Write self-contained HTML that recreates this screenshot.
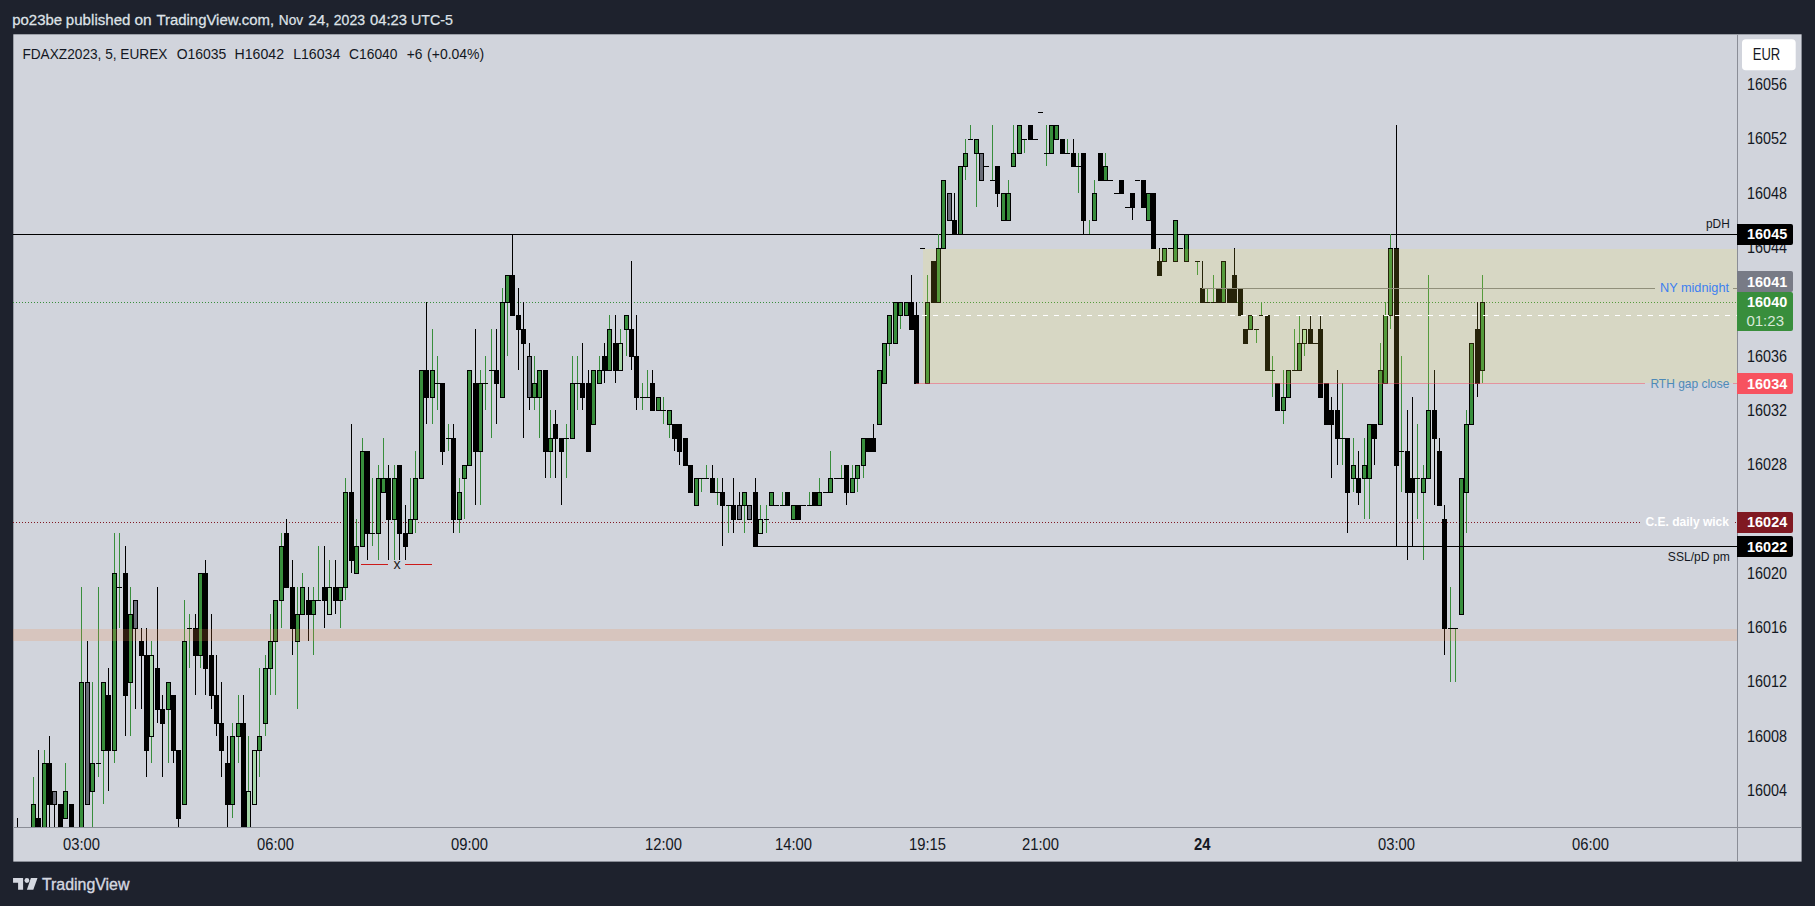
<!DOCTYPE html>
<html lang="en"><head><meta charset="utf-8"><title>FDAXZ2023 chart</title>
<style>html,body{margin:0;padding:0;background:#1e222d;}body{width:1815px;height:906px;overflow:hidden;font-family:"Liberation Sans",Arial,sans-serif;}svg{display:block;}text{font-family:"Liberation Sans",Arial,sans-serif;}</style></head><body>
<svg width="1815" height="906" viewBox="0 0 1815 906">
<rect x="0" y="0" width="1815" height="906" fill="#1e222d"/>
<rect x="13.3" y="34.3" width="1788.3" height="827.3" fill="#d1d4dc"/>
<defs><clipPath id="pane"><rect x="13" y="35" width="1724" height="792"/></clipPath></defs>
<g clip-path="url(#pane)" shape-rendering="crispEdges">
<rect x="13" y="234" width="1724" height="1" fill="#000"/>
<line x1="13" y1="302.5" x2="1737" y2="302.5" stroke="#388e3c" stroke-width="1" stroke-dasharray="1 2"/>
<line x1="13" y1="522.5" x2="1640" y2="522.5" stroke="#801922" stroke-width="1" stroke-dasharray="1 2"/>
<rect x="1735" y="522" width="1" height="1" fill="#801922"/>
<rect x="17" y="818" width="1" height="54" fill="#000000"/>
<rect x="15" y="845" width="5" height="14" fill="#000"/>
<rect x="33" y="777" width="1" height="81" fill="#388e3c"/>
<rect x="31" y="804" width="5" height="55" fill="#000"/>
<rect x="32" y="805" width="3" height="53" fill="#388e3c"/>
<rect x="38" y="750" width="1" height="108" fill="#000000"/>
<rect x="36" y="818" width="5" height="41" fill="#000"/>
<rect x="44" y="750" width="1" height="108" fill="#388e3c"/>
<rect x="42" y="763" width="5" height="96" fill="#000"/>
<rect x="43" y="764" width="3" height="94" fill="#388e3c"/>
<rect x="49" y="736" width="1" height="109" fill="#000000"/>
<rect x="47" y="763" width="5" height="42" fill="#000"/>
<rect x="54" y="791" width="1" height="54" fill="#000000"/>
<rect x="52" y="791" width="5" height="14" fill="#000"/>
<rect x="53" y="792" width="3" height="12" fill="#6a6d78"/>
<rect x="60" y="804" width="1" height="54" fill="#000000"/>
<rect x="58" y="804" width="5" height="55" fill="#000"/>
<rect x="65" y="763" width="1" height="55" fill="#388e3c"/>
<rect x="63" y="791" width="5" height="28" fill="#000"/>
<rect x="64" y="792" width="3" height="26" fill="#388e3c"/>
<rect x="71" y="804" width="1" height="54" fill="#000000"/>
<rect x="69" y="804" width="5" height="55" fill="#000"/>
<rect x="81" y="587" width="1" height="271" fill="#388e3c"/>
<rect x="79" y="682" width="5" height="177" fill="#000"/>
<rect x="80" y="683" width="3" height="175" fill="#388e3c"/>
<rect x="87" y="641" width="1" height="163" fill="#000000"/>
<rect x="85" y="682" width="5" height="123" fill="#000"/>
<rect x="86" y="683" width="3" height="121" fill="#6a6d78"/>
<rect x="92" y="682" width="1" height="163" fill="#388e3c"/>
<rect x="90" y="763" width="5" height="29" fill="#000"/>
<rect x="91" y="764" width="3" height="27" fill="#388e3c"/>
<rect x="98" y="587" width="1" height="190" fill="#388e3c"/>
<rect x="96" y="763" width="5" height="1" fill="#000"/>
<rect x="103" y="682" width="1" height="122" fill="#388e3c"/>
<rect x="101" y="682" width="5" height="69" fill="#000"/>
<rect x="102" y="683" width="3" height="67" fill="#388e3c"/>
<rect x="108" y="668" width="1" height="123" fill="#000000"/>
<rect x="106" y="695" width="5" height="56" fill="#000"/>
<rect x="114" y="533" width="1" height="230" fill="#388e3c"/>
<rect x="112" y="573" width="5" height="178" fill="#000"/>
<rect x="113" y="574" width="3" height="176" fill="#388e3c"/>
<rect x="119" y="533" width="1" height="95" fill="#388e3c"/>
<rect x="117" y="587" width="5" height="1" fill="#000"/>
<rect x="125" y="546" width="1" height="190" fill="#000000"/>
<rect x="123" y="573" width="5" height="123" fill="#000"/>
<rect x="130" y="587" width="1" height="149" fill="#388e3c"/>
<rect x="128" y="614" width="5" height="69" fill="#000"/>
<rect x="129" y="615" width="3" height="67" fill="#388e3c"/>
<rect x="135" y="600" width="1" height="109" fill="#000000"/>
<rect x="133" y="600" width="5" height="29" fill="#000"/>
<rect x="134" y="601" width="3" height="27" fill="#6a6d78"/>
<rect x="141" y="628" width="1" height="81" fill="#000000"/>
<rect x="139" y="641" width="5" height="15" fill="#000"/>
<rect x="146" y="628" width="1" height="149" fill="#000000"/>
<rect x="144" y="655" width="5" height="96" fill="#000"/>
<rect x="151" y="641" width="1" height="122" fill="#388e3c"/>
<rect x="149" y="655" width="5" height="82" fill="#000"/>
<rect x="150" y="656" width="3" height="80" fill="#a5d6a7"/>
<rect x="157" y="587" width="1" height="136" fill="#000000"/>
<rect x="155" y="668" width="5" height="42" fill="#000"/>
<rect x="162" y="695" width="1" height="82" fill="#000000"/>
<rect x="160" y="709" width="5" height="15" fill="#000"/>
<rect x="168" y="682" width="1" height="81" fill="#388e3c"/>
<rect x="166" y="682" width="5" height="28" fill="#000"/>
<rect x="167" y="683" width="3" height="26" fill="#388e3c"/>
<rect x="173" y="695" width="1" height="68" fill="#000000"/>
<rect x="171" y="695" width="5" height="56" fill="#000"/>
<rect x="178" y="750" width="1" height="81" fill="#000000"/>
<rect x="176" y="750" width="5" height="69" fill="#000"/>
<rect x="184" y="600" width="1" height="204" fill="#388e3c"/>
<rect x="182" y="641" width="5" height="164" fill="#000"/>
<rect x="183" y="642" width="3" height="162" fill="#388e3c"/>
<rect x="189" y="614" width="1" height="54" fill="#388e3c"/>
<rect x="187" y="628" width="5" height="1" fill="#000"/>
<rect x="195" y="614" width="1" height="81" fill="#000000"/>
<rect x="193" y="628" width="5" height="28" fill="#000"/>
<rect x="200" y="573" width="1" height="95" fill="#388e3c"/>
<rect x="198" y="573" width="5" height="83" fill="#000"/>
<rect x="199" y="574" width="3" height="81" fill="#388e3c"/>
<rect x="205" y="560" width="1" height="135" fill="#000000"/>
<rect x="203" y="573" width="5" height="96" fill="#000"/>
<rect x="211" y="614" width="1" height="95" fill="#000000"/>
<rect x="209" y="655" width="5" height="41" fill="#000"/>
<rect x="216" y="655" width="1" height="81" fill="#000000"/>
<rect x="214" y="695" width="5" height="29" fill="#000"/>
<rect x="221" y="682" width="1" height="95" fill="#000000"/>
<rect x="219" y="723" width="5" height="28" fill="#000"/>
<rect x="227" y="736" width="1" height="109" fill="#000000"/>
<rect x="225" y="763" width="5" height="42" fill="#000"/>
<rect x="232" y="723" width="1" height="95" fill="#388e3c"/>
<rect x="230" y="736" width="5" height="69" fill="#000"/>
<rect x="231" y="737" width="3" height="67" fill="#388e3c"/>
<rect x="238" y="695" width="1" height="68" fill="#388e3c"/>
<rect x="236" y="723" width="5" height="14" fill="#000"/>
<rect x="237" y="724" width="3" height="12" fill="#388e3c"/>
<rect x="243" y="695" width="1" height="163" fill="#000000"/>
<rect x="241" y="723" width="5" height="123" fill="#000"/>
<rect x="248" y="736" width="1" height="109" fill="#388e3c"/>
<rect x="246" y="791" width="5" height="55" fill="#000"/>
<rect x="247" y="792" width="3" height="53" fill="#a5d6a7"/>
<rect x="254" y="750" width="1" height="54" fill="#388e3c"/>
<rect x="252" y="750" width="5" height="55" fill="#000"/>
<rect x="253" y="751" width="3" height="53" fill="#a5d6a7"/>
<rect x="259" y="668" width="1" height="109" fill="#388e3c"/>
<rect x="257" y="736" width="5" height="15" fill="#000"/>
<rect x="258" y="737" width="3" height="13" fill="#388e3c"/>
<rect x="265" y="655" width="1" height="81" fill="#388e3c"/>
<rect x="263" y="668" width="5" height="56" fill="#000"/>
<rect x="264" y="669" width="3" height="54" fill="#388e3c"/>
<rect x="270" y="614" width="1" height="81" fill="#388e3c"/>
<rect x="268" y="641" width="5" height="28" fill="#000"/>
<rect x="269" y="642" width="3" height="26" fill="#388e3c"/>
<rect x="275" y="600" width="1" height="95" fill="#388e3c"/>
<rect x="273" y="600" width="5" height="42" fill="#000"/>
<rect x="274" y="601" width="3" height="40" fill="#388e3c"/>
<rect x="281" y="533" width="1" height="95" fill="#388e3c"/>
<rect x="279" y="546" width="5" height="55" fill="#000"/>
<rect x="280" y="547" width="3" height="53" fill="#388e3c"/>
<rect x="286" y="519" width="1" height="68" fill="#000000"/>
<rect x="284" y="533" width="5" height="55" fill="#000"/>
<rect x="292" y="560" width="1" height="95" fill="#000000"/>
<rect x="290" y="587" width="5" height="42" fill="#000"/>
<rect x="297" y="587" width="1" height="122" fill="#388e3c"/>
<rect x="295" y="614" width="5" height="28" fill="#000"/>
<rect x="296" y="615" width="3" height="26" fill="#388e3c"/>
<rect x="302" y="573" width="1" height="41" fill="#388e3c"/>
<rect x="300" y="587" width="5" height="28" fill="#000"/>
<rect x="301" y="588" width="3" height="26" fill="#388e3c"/>
<rect x="308" y="587" width="1" height="54" fill="#000000"/>
<rect x="306" y="600" width="5" height="15" fill="#000"/>
<rect x="313" y="587" width="1" height="68" fill="#388e3c"/>
<rect x="311" y="600" width="5" height="15" fill="#000"/>
<rect x="312" y="601" width="3" height="13" fill="#388e3c"/>
<rect x="318" y="546" width="1" height="54" fill="#388e3c"/>
<rect x="316" y="600" width="5" height="1" fill="#000"/>
<rect x="324" y="546" width="1" height="82" fill="#000000"/>
<rect x="322" y="587" width="5" height="14" fill="#000"/>
<rect x="329" y="560" width="1" height="54" fill="#388e3c"/>
<rect x="327" y="587" width="5" height="28" fill="#000"/>
<rect x="328" y="588" width="3" height="26" fill="#a5d6a7"/>
<rect x="335" y="560" width="1" height="54" fill="#000000"/>
<rect x="333" y="587" width="5" height="14" fill="#000"/>
<rect x="340" y="587" width="1" height="41" fill="#388e3c"/>
<rect x="338" y="587" width="5" height="14" fill="#000"/>
<rect x="339" y="588" width="3" height="12" fill="#388e3c"/>
<rect x="345" y="478" width="1" height="122" fill="#388e3c"/>
<rect x="343" y="492" width="5" height="96" fill="#000"/>
<rect x="344" y="493" width="3" height="94" fill="#388e3c"/>
<rect x="351" y="424" width="1" height="149" fill="#000000"/>
<rect x="349" y="492" width="5" height="69" fill="#000"/>
<rect x="356" y="519" width="1" height="54" fill="#388e3c"/>
<rect x="354" y="546" width="5" height="28" fill="#000"/>
<rect x="355" y="547" width="3" height="26" fill="#388e3c"/>
<rect x="362" y="438" width="1" height="108" fill="#388e3c"/>
<rect x="360" y="451" width="5" height="96" fill="#000"/>
<rect x="361" y="452" width="3" height="94" fill="#388e3c"/>
<rect x="367" y="451" width="1" height="109" fill="#000000"/>
<rect x="365" y="451" width="5" height="83" fill="#000"/>
<rect x="372" y="478" width="1" height="68" fill="#388e3c"/>
<rect x="370" y="533" width="5" height="1" fill="#000"/>
<rect x="378" y="465" width="1" height="95" fill="#388e3c"/>
<rect x="376" y="478" width="5" height="56" fill="#000"/>
<rect x="377" y="479" width="3" height="54" fill="#388e3c"/>
<rect x="383" y="438" width="1" height="54" fill="#388e3c"/>
<rect x="381" y="478" width="5" height="15" fill="#000"/>
<rect x="382" y="479" width="3" height="13" fill="#388e3c"/>
<rect x="388" y="465" width="1" height="95" fill="#000000"/>
<rect x="386" y="478" width="5" height="42" fill="#000"/>
<rect x="394" y="465" width="1" height="95" fill="#388e3c"/>
<rect x="392" y="478" width="5" height="42" fill="#000"/>
<rect x="393" y="479" width="3" height="40" fill="#388e3c"/>
<rect x="399" y="465" width="1" height="95" fill="#000000"/>
<rect x="397" y="465" width="5" height="69" fill="#000"/>
<rect x="405" y="505" width="1" height="55" fill="#000000"/>
<rect x="403" y="533" width="5" height="14" fill="#000"/>
<rect x="410" y="478" width="1" height="55" fill="#388e3c"/>
<rect x="408" y="519" width="5" height="15" fill="#000"/>
<rect x="409" y="520" width="3" height="13" fill="#388e3c"/>
<rect x="415" y="451" width="1" height="82" fill="#388e3c"/>
<rect x="413" y="478" width="5" height="42" fill="#000"/>
<rect x="414" y="479" width="3" height="40" fill="#388e3c"/>
<rect x="421" y="370" width="1" height="108" fill="#388e3c"/>
<rect x="419" y="370" width="5" height="109" fill="#000"/>
<rect x="420" y="371" width="3" height="107" fill="#388e3c"/>
<rect x="426" y="302" width="1" height="122" fill="#000000"/>
<rect x="424" y="370" width="5" height="28" fill="#000"/>
<rect x="432" y="329" width="1" height="95" fill="#388e3c"/>
<rect x="430" y="370" width="5" height="28" fill="#000"/>
<rect x="431" y="371" width="3" height="26" fill="#388e3c"/>
<rect x="437" y="356" width="1" height="54" fill="#388e3c"/>
<rect x="435" y="383" width="5" height="1" fill="#000"/>
<rect x="442" y="383" width="1" height="82" fill="#000000"/>
<rect x="440" y="383" width="5" height="69" fill="#000"/>
<rect x="448" y="424" width="1" height="27" fill="#388e3c"/>
<rect x="446" y="438" width="5" height="1" fill="#000"/>
<rect x="453" y="424" width="1" height="109" fill="#000000"/>
<rect x="451" y="438" width="5" height="82" fill="#000"/>
<rect x="459" y="478" width="1" height="55" fill="#388e3c"/>
<rect x="457" y="492" width="5" height="28" fill="#000"/>
<rect x="458" y="493" width="3" height="26" fill="#388e3c"/>
<rect x="464" y="465" width="1" height="54" fill="#388e3c"/>
<rect x="462" y="465" width="5" height="14" fill="#000"/>
<rect x="463" y="466" width="3" height="12" fill="#388e3c"/>
<rect x="469" y="370" width="1" height="95" fill="#388e3c"/>
<rect x="467" y="370" width="5" height="96" fill="#000"/>
<rect x="468" y="371" width="3" height="94" fill="#388e3c"/>
<rect x="475" y="329" width="1" height="176" fill="#000000"/>
<rect x="473" y="383" width="5" height="69" fill="#000"/>
<rect x="480" y="370" width="1" height="135" fill="#388e3c"/>
<rect x="478" y="383" width="5" height="69" fill="#000"/>
<rect x="479" y="384" width="3" height="67" fill="#388e3c"/>
<rect x="485" y="356" width="1" height="54" fill="#388e3c"/>
<rect x="483" y="383" width="5" height="1" fill="#000"/>
<rect x="491" y="329" width="1" height="109" fill="#388e3c"/>
<rect x="489" y="370" width="5" height="1" fill="#000"/>
<rect x="496" y="329" width="1" height="95" fill="#000000"/>
<rect x="494" y="370" width="5" height="14" fill="#000"/>
<rect x="502" y="288" width="1" height="109" fill="#388e3c"/>
<rect x="500" y="302" width="5" height="96" fill="#000"/>
<rect x="501" y="303" width="3" height="94" fill="#388e3c"/>
<rect x="507" y="275" width="1" height="81" fill="#388e3c"/>
<rect x="505" y="275" width="5" height="28" fill="#000"/>
<rect x="506" y="276" width="3" height="26" fill="#388e3c"/>
<rect x="512" y="234" width="1" height="81" fill="#000000"/>
<rect x="510" y="275" width="5" height="41" fill="#000"/>
<rect x="518" y="288" width="1" height="82" fill="#000000"/>
<rect x="516" y="315" width="5" height="15" fill="#000"/>
<rect x="523" y="302" width="1" height="136" fill="#000000"/>
<rect x="521" y="329" width="5" height="15" fill="#000"/>
<rect x="529" y="343" width="1" height="67" fill="#000000"/>
<rect x="527" y="356" width="5" height="42" fill="#000"/>
<rect x="528" y="357" width="3" height="40" fill="#6a6d78"/>
<rect x="534" y="356" width="1" height="54" fill="#388e3c"/>
<rect x="532" y="383" width="5" height="15" fill="#000"/>
<rect x="533" y="384" width="3" height="13" fill="#388e3c"/>
<rect x="539" y="370" width="1" height="68" fill="#388e3c"/>
<rect x="537" y="370" width="5" height="28" fill="#000"/>
<rect x="538" y="371" width="3" height="26" fill="#388e3c"/>
<rect x="545" y="370" width="1" height="108" fill="#000000"/>
<rect x="543" y="370" width="5" height="82" fill="#000"/>
<rect x="550" y="410" width="1" height="68" fill="#388e3c"/>
<rect x="548" y="438" width="5" height="14" fill="#000"/>
<rect x="549" y="439" width="3" height="12" fill="#388e3c"/>
<rect x="555" y="410" width="1" height="68" fill="#000000"/>
<rect x="553" y="424" width="5" height="15" fill="#000"/>
<rect x="561" y="438" width="1" height="67" fill="#000000"/>
<rect x="559" y="438" width="5" height="14" fill="#000"/>
<rect x="566" y="424" width="1" height="54" fill="#388e3c"/>
<rect x="564" y="438" width="5" height="1" fill="#000"/>
<rect x="572" y="356" width="1" height="82" fill="#388e3c"/>
<rect x="570" y="383" width="5" height="56" fill="#000"/>
<rect x="571" y="384" width="3" height="54" fill="#388e3c"/>
<rect x="577" y="356" width="1" height="54" fill="#388e3c"/>
<rect x="575" y="383" width="5" height="1" fill="#000"/>
<rect x="582" y="343" width="1" height="67" fill="#000000"/>
<rect x="580" y="383" width="5" height="15" fill="#000"/>
<rect x="588" y="370" width="1" height="81" fill="#000000"/>
<rect x="586" y="383" width="5" height="69" fill="#000"/>
<rect x="593" y="370" width="1" height="54" fill="#388e3c"/>
<rect x="591" y="370" width="5" height="55" fill="#000"/>
<rect x="592" y="371" width="3" height="53" fill="#388e3c"/>
<rect x="599" y="356" width="1" height="27" fill="#388e3c"/>
<rect x="597" y="370" width="5" height="14" fill="#000"/>
<rect x="598" y="371" width="3" height="12" fill="#388e3c"/>
<rect x="604" y="343" width="1" height="40" fill="#000000"/>
<rect x="602" y="356" width="5" height="15" fill="#000"/>
<rect x="609" y="315" width="1" height="55" fill="#388e3c"/>
<rect x="607" y="329" width="5" height="42" fill="#000"/>
<rect x="608" y="330" width="3" height="40" fill="#388e3c"/>
<rect x="615" y="315" width="1" height="68" fill="#000000"/>
<rect x="613" y="343" width="5" height="28" fill="#000"/>
<rect x="620" y="329" width="1" height="41" fill="#388e3c"/>
<rect x="618" y="343" width="5" height="28" fill="#000"/>
<rect x="619" y="344" width="3" height="26" fill="#a5d6a7"/>
<rect x="626" y="315" width="1" height="41" fill="#388e3c"/>
<rect x="624" y="315" width="5" height="15" fill="#000"/>
<rect x="625" y="316" width="3" height="13" fill="#388e3c"/>
<rect x="631" y="261" width="1" height="109" fill="#000000"/>
<rect x="629" y="329" width="5" height="28" fill="#000"/>
<rect x="636" y="315" width="1" height="95" fill="#000000"/>
<rect x="634" y="356" width="5" height="42" fill="#000"/>
<rect x="642" y="383" width="1" height="27" fill="#388e3c"/>
<rect x="640" y="397" width="5" height="1" fill="#000"/>
<rect x="647" y="370" width="1" height="27" fill="#388e3c"/>
<rect x="645" y="397" width="5" height="1" fill="#000"/>
<rect x="652" y="370" width="1" height="40" fill="#000000"/>
<rect x="650" y="383" width="5" height="28" fill="#000"/>
<rect x="658" y="397" width="1" height="13" fill="#388e3c"/>
<rect x="656" y="397" width="5" height="14" fill="#000"/>
<rect x="657" y="398" width="3" height="12" fill="#388e3c"/>
<rect x="663" y="397" width="1" height="27" fill="#388e3c"/>
<rect x="661" y="410" width="5" height="1" fill="#000"/>
<rect x="669" y="410" width="1" height="28" fill="#388e3c"/>
<rect x="667" y="410" width="5" height="15" fill="#000"/>
<rect x="668" y="411" width="3" height="13" fill="#388e3c"/>
<rect x="674" y="424" width="1" height="27" fill="#000000"/>
<rect x="672" y="424" width="5" height="15" fill="#000"/>
<rect x="679" y="424" width="1" height="41" fill="#000000"/>
<rect x="677" y="424" width="5" height="28" fill="#000"/>
<rect x="685" y="438" width="1" height="27" fill="#000000"/>
<rect x="683" y="438" width="5" height="28" fill="#000"/>
<rect x="690" y="465" width="1" height="27" fill="#000000"/>
<rect x="688" y="465" width="5" height="28" fill="#000"/>
<rect x="696" y="478" width="1" height="27" fill="#388e3c"/>
<rect x="694" y="478" width="5" height="28" fill="#000"/>
<rect x="695" y="479" width="3" height="26" fill="#388e3c"/>
<rect x="701" y="478" width="1" height="14" fill="#388e3c"/>
<rect x="699" y="478" width="5" height="1" fill="#000"/>
<rect x="706" y="465" width="1" height="13" fill="#388e3c"/>
<rect x="704" y="478" width="5" height="1" fill="#000"/>
<rect x="712" y="465" width="1" height="27" fill="#000000"/>
<rect x="710" y="478" width="5" height="15" fill="#000"/>
<rect x="717" y="478" width="1" height="27" fill="#388e3c"/>
<rect x="715" y="492" width="5" height="1" fill="#000"/>
<rect x="722" y="478" width="1" height="68" fill="#000000"/>
<rect x="720" y="492" width="5" height="14" fill="#000"/>
<rect x="728" y="505" width="1" height="28" fill="#388e3c"/>
<rect x="726" y="505" width="5" height="1" fill="#000"/>
<rect x="733" y="478" width="1" height="55" fill="#000000"/>
<rect x="731" y="505" width="5" height="15" fill="#000"/>
<rect x="739" y="492" width="1" height="27" fill="#000000"/>
<rect x="737" y="505" width="5" height="15" fill="#000"/>
<rect x="738" y="506" width="3" height="13" fill="#6a6d78"/>
<rect x="744" y="492" width="1" height="41" fill="#388e3c"/>
<rect x="742" y="492" width="5" height="14" fill="#000"/>
<rect x="743" y="493" width="3" height="12" fill="#388e3c"/>
<rect x="749" y="505" width="1" height="14" fill="#000000"/>
<rect x="747" y="505" width="5" height="15" fill="#000"/>
<rect x="748" y="506" width="3" height="13" fill="#6a6d78"/>
<rect x="755" y="478" width="1" height="68" fill="#000000"/>
<rect x="753" y="492" width="5" height="55" fill="#000"/>
<rect x="760" y="505" width="1" height="28" fill="#388e3c"/>
<rect x="758" y="519" width="5" height="15" fill="#000"/>
<rect x="759" y="520" width="3" height="13" fill="#a5d6a7"/>
<rect x="766" y="505" width="1" height="28" fill="#388e3c"/>
<rect x="764" y="519" width="5" height="1" fill="#000"/>
<rect x="771" y="492" width="1" height="13" fill="#388e3c"/>
<rect x="769" y="492" width="5" height="14" fill="#000"/>
<rect x="770" y="493" width="3" height="12" fill="#388e3c"/>
<rect x="774" y="505" width="5" height="1" fill="#000"/>
<rect x="782" y="492" width="1" height="13" fill="#388e3c"/>
<rect x="780" y="505" width="5" height="1" fill="#000"/>
<rect x="787" y="492" width="1" height="13" fill="#000000"/>
<rect x="785" y="492" width="5" height="14" fill="#000"/>
<rect x="793" y="505" width="1" height="14" fill="#388e3c"/>
<rect x="791" y="505" width="5" height="15" fill="#000"/>
<rect x="792" y="506" width="3" height="13" fill="#388e3c"/>
<rect x="798" y="505" width="1" height="14" fill="#000000"/>
<rect x="796" y="505" width="5" height="15" fill="#000"/>
<rect x="801" y="505" width="5" height="1" fill="#000"/>
<rect x="809" y="492" width="1" height="13" fill="#388e3c"/>
<rect x="807" y="505" width="5" height="1" fill="#000"/>
<rect x="814" y="492" width="1" height="13" fill="#000000"/>
<rect x="812" y="492" width="5" height="14" fill="#000"/>
<rect x="819" y="478" width="1" height="27" fill="#388e3c"/>
<rect x="817" y="492" width="5" height="14" fill="#000"/>
<rect x="818" y="493" width="3" height="12" fill="#388e3c"/>
<rect x="823" y="492" width="5" height="1" fill="#000"/>
<rect x="830" y="451" width="1" height="41" fill="#388e3c"/>
<rect x="828" y="478" width="5" height="15" fill="#000"/>
<rect x="829" y="479" width="3" height="13" fill="#388e3c"/>
<rect x="834" y="478" width="5" height="1" fill="#000"/>
<rect x="841" y="465" width="1" height="13" fill="#388e3c"/>
<rect x="839" y="478" width="5" height="1" fill="#000"/>
<rect x="846" y="465" width="1" height="40" fill="#000000"/>
<rect x="844" y="465" width="5" height="28" fill="#000"/>
<rect x="852" y="465" width="1" height="27" fill="#388e3c"/>
<rect x="850" y="478" width="5" height="15" fill="#000"/>
<rect x="851" y="479" width="3" height="13" fill="#388e3c"/>
<rect x="857" y="465" width="1" height="27" fill="#388e3c"/>
<rect x="855" y="465" width="5" height="14" fill="#000"/>
<rect x="856" y="466" width="3" height="12" fill="#388e3c"/>
<rect x="863" y="438" width="1" height="40" fill="#388e3c"/>
<rect x="861" y="438" width="5" height="28" fill="#000"/>
<rect x="862" y="439" width="3" height="26" fill="#388e3c"/>
<rect x="868" y="438" width="1" height="13" fill="#000000"/>
<rect x="866" y="438" width="5" height="14" fill="#000"/>
<rect x="873" y="424" width="1" height="27" fill="#000000"/>
<rect x="871" y="438" width="5" height="14" fill="#000"/>
<rect x="879" y="370" width="1" height="54" fill="#388e3c"/>
<rect x="877" y="370" width="5" height="55" fill="#000"/>
<rect x="878" y="371" width="3" height="53" fill="#388e3c"/>
<rect x="884" y="343" width="1" height="40" fill="#388e3c"/>
<rect x="882" y="343" width="5" height="41" fill="#000"/>
<rect x="883" y="344" width="3" height="39" fill="#388e3c"/>
<rect x="889" y="315" width="1" height="41" fill="#388e3c"/>
<rect x="887" y="315" width="5" height="29" fill="#000"/>
<rect x="888" y="316" width="3" height="27" fill="#388e3c"/>
<rect x="895" y="302" width="1" height="41" fill="#388e3c"/>
<rect x="893" y="302" width="5" height="42" fill="#000"/>
<rect x="894" y="303" width="3" height="40" fill="#388e3c"/>
<rect x="900" y="302" width="1" height="27" fill="#388e3c"/>
<rect x="898" y="302" width="5" height="14" fill="#000"/>
<rect x="899" y="303" width="3" height="12" fill="#388e3c"/>
<rect x="906" y="302" width="1" height="13" fill="#388e3c"/>
<rect x="904" y="302" width="5" height="14" fill="#000"/>
<rect x="905" y="303" width="3" height="12" fill="#388e3c"/>
<rect x="911" y="275" width="1" height="54" fill="#000000"/>
<rect x="909" y="302" width="5" height="28" fill="#000"/>
<rect x="916" y="302" width="1" height="81" fill="#000000"/>
<rect x="914" y="315" width="5" height="69" fill="#000"/>
<rect x="920" y="248" width="5" height="1" fill="#000"/>
<rect x="927" y="275" width="1" height="108" fill="#388e3c"/>
<rect x="925" y="302" width="5" height="82" fill="#000"/>
<rect x="926" y="303" width="3" height="80" fill="#388e3c"/>
<rect x="933" y="261" width="1" height="41" fill="#000000"/>
<rect x="931" y="261" width="5" height="42" fill="#000"/>
<rect x="938" y="234" width="1" height="68" fill="#388e3c"/>
<rect x="936" y="248" width="5" height="55" fill="#000"/>
<rect x="937" y="249" width="3" height="53" fill="#388e3c"/>
<rect x="943" y="180" width="1" height="68" fill="#388e3c"/>
<rect x="941" y="180" width="5" height="69" fill="#000"/>
<rect x="942" y="181" width="3" height="67" fill="#388e3c"/>
<rect x="949" y="193" width="1" height="27" fill="#000000"/>
<rect x="947" y="193" width="5" height="28" fill="#000"/>
<rect x="948" y="194" width="3" height="26" fill="#6a6d78"/>
<rect x="954" y="193" width="1" height="41" fill="#000000"/>
<rect x="952" y="220" width="5" height="15" fill="#000"/>
<rect x="960" y="166" width="1" height="68" fill="#388e3c"/>
<rect x="958" y="166" width="5" height="69" fill="#000"/>
<rect x="959" y="167" width="3" height="67" fill="#388e3c"/>
<rect x="965" y="139" width="1" height="41" fill="#388e3c"/>
<rect x="963" y="153" width="5" height="14" fill="#000"/>
<rect x="964" y="154" width="3" height="12" fill="#388e3c"/>
<rect x="970" y="125" width="1" height="14" fill="#388e3c"/>
<rect x="968" y="139" width="5" height="1" fill="#000"/>
<rect x="976" y="139" width="1" height="68" fill="#388e3c"/>
<rect x="974" y="139" width="5" height="15" fill="#000"/>
<rect x="975" y="140" width="3" height="13" fill="#388e3c"/>
<rect x="981" y="153" width="1" height="27" fill="#000000"/>
<rect x="979" y="153" width="5" height="28" fill="#000"/>
<rect x="980" y="154" width="3" height="26" fill="#6a6d78"/>
<rect x="984" y="166" width="5" height="1" fill="#000"/>
<rect x="992" y="125" width="1" height="55" fill="#388e3c"/>
<rect x="990" y="180" width="5" height="1" fill="#000"/>
<rect x="997" y="166" width="1" height="41" fill="#000000"/>
<rect x="995" y="166" width="5" height="28" fill="#000"/>
<rect x="1003" y="193" width="1" height="27" fill="#388e3c"/>
<rect x="1001" y="193" width="5" height="28" fill="#000"/>
<rect x="1002" y="194" width="3" height="26" fill="#388e3c"/>
<rect x="1008" y="180" width="1" height="40" fill="#388e3c"/>
<rect x="1006" y="193" width="5" height="28" fill="#000"/>
<rect x="1007" y="194" width="3" height="26" fill="#388e3c"/>
<rect x="1013" y="125" width="1" height="41" fill="#388e3c"/>
<rect x="1011" y="153" width="5" height="14" fill="#000"/>
<rect x="1012" y="154" width="3" height="12" fill="#388e3c"/>
<rect x="1019" y="125" width="1" height="28" fill="#388e3c"/>
<rect x="1017" y="125" width="5" height="29" fill="#000"/>
<rect x="1018" y="126" width="3" height="27" fill="#388e3c"/>
<rect x="1024" y="139" width="1" height="14" fill="#388e3c"/>
<rect x="1022" y="139" width="5" height="1" fill="#000"/>
<rect x="1030" y="125" width="1" height="14" fill="#000000"/>
<rect x="1028" y="125" width="5" height="15" fill="#000"/>
<rect x="1033" y="139" width="5" height="1" fill="#000"/>
<rect x="1038" y="112" width="5" height="1" fill="#000"/>
<rect x="1046" y="125" width="1" height="41" fill="#388e3c"/>
<rect x="1044" y="153" width="5" height="1" fill="#000"/>
<rect x="1051" y="125" width="1" height="28" fill="#388e3c"/>
<rect x="1049" y="125" width="5" height="29" fill="#000"/>
<rect x="1050" y="126" width="3" height="27" fill="#388e3c"/>
<rect x="1056" y="125" width="1" height="14" fill="#388e3c"/>
<rect x="1054" y="125" width="5" height="15" fill="#000"/>
<rect x="1055" y="126" width="3" height="13" fill="#388e3c"/>
<rect x="1062" y="139" width="1" height="14" fill="#000000"/>
<rect x="1060" y="139" width="5" height="15" fill="#000"/>
<rect x="1067" y="139" width="1" height="14" fill="#388e3c"/>
<rect x="1065" y="153" width="5" height="1" fill="#000"/>
<rect x="1073" y="139" width="1" height="27" fill="#000000"/>
<rect x="1071" y="153" width="5" height="14" fill="#000"/>
<rect x="1078" y="153" width="1" height="40" fill="#388e3c"/>
<rect x="1076" y="166" width="5" height="1" fill="#000"/>
<rect x="1083" y="153" width="1" height="81" fill="#000000"/>
<rect x="1081" y="153" width="5" height="68" fill="#000"/>
<rect x="1089" y="220" width="1" height="14" fill="#388e3c"/>
<rect x="1087" y="234" width="5" height="1" fill="#000"/>
<rect x="1094" y="180" width="1" height="40" fill="#388e3c"/>
<rect x="1092" y="193" width="5" height="28" fill="#000"/>
<rect x="1093" y="194" width="3" height="26" fill="#388e3c"/>
<rect x="1100" y="153" width="1" height="27" fill="#000000"/>
<rect x="1098" y="153" width="5" height="28" fill="#000"/>
<rect x="1105" y="153" width="1" height="27" fill="#388e3c"/>
<rect x="1103" y="166" width="5" height="15" fill="#000"/>
<rect x="1104" y="167" width="3" height="13" fill="#388e3c"/>
<rect x="1108" y="180" width="5" height="1" fill="#000"/>
<rect x="1114" y="193" width="5" height="1" fill="#000"/>
<rect x="1121" y="180" width="1" height="13" fill="#000000"/>
<rect x="1119" y="180" width="5" height="14" fill="#000"/>
<rect x="1125" y="207" width="5" height="1" fill="#000"/>
<rect x="1132" y="193" width="1" height="27" fill="#000000"/>
<rect x="1130" y="193" width="5" height="15" fill="#000"/>
<rect x="1135" y="180" width="5" height="1" fill="#000"/>
<rect x="1143" y="180" width="1" height="27" fill="#000000"/>
<rect x="1141" y="180" width="5" height="28" fill="#000"/>
<rect x="1148" y="193" width="1" height="27" fill="#388e3c"/>
<rect x="1146" y="193" width="5" height="28" fill="#000"/>
<rect x="1147" y="194" width="3" height="26" fill="#388e3c"/>
<rect x="1153" y="193" width="1" height="55" fill="#000000"/>
<rect x="1151" y="193" width="5" height="56" fill="#000"/>
<rect x="1159" y="248" width="1" height="27" fill="#000000"/>
<rect x="1157" y="261" width="5" height="15" fill="#000"/>
<rect x="1164" y="248" width="1" height="13" fill="#388e3c"/>
<rect x="1162" y="248" width="5" height="14" fill="#000"/>
<rect x="1163" y="249" width="3" height="12" fill="#388e3c"/>
<rect x="1168" y="248" width="5" height="1" fill="#000"/>
<rect x="1175" y="220" width="1" height="41" fill="#388e3c"/>
<rect x="1173" y="220" width="5" height="42" fill="#000"/>
<rect x="1174" y="221" width="3" height="40" fill="#388e3c"/>
<rect x="1178" y="248" width="5" height="1" fill="#000"/>
<rect x="1186" y="234" width="1" height="27" fill="#388e3c"/>
<rect x="1184" y="234" width="5" height="28" fill="#000"/>
<rect x="1185" y="235" width="3" height="26" fill="#388e3c"/>
<rect x="1197" y="261" width="1" height="14" fill="#388e3c"/>
<rect x="1195" y="261" width="5" height="1" fill="#000"/>
<rect x="1202" y="261" width="1" height="41" fill="#000000"/>
<rect x="1200" y="288" width="5" height="15" fill="#000"/>
<rect x="1207" y="288" width="1" height="14" fill="#388e3c"/>
<rect x="1205" y="302" width="5" height="1" fill="#000"/>
<rect x="1213" y="275" width="1" height="27" fill="#388e3c"/>
<rect x="1211" y="302" width="5" height="1" fill="#000"/>
<rect x="1218" y="288" width="1" height="14" fill="#000000"/>
<rect x="1216" y="288" width="5" height="15" fill="#000"/>
<rect x="1223" y="261" width="1" height="41" fill="#388e3c"/>
<rect x="1221" y="261" width="5" height="42" fill="#000"/>
<rect x="1222" y="262" width="3" height="40" fill="#388e3c"/>
<rect x="1229" y="288" width="1" height="14" fill="#000000"/>
<rect x="1227" y="288" width="5" height="15" fill="#000"/>
<rect x="1234" y="248" width="1" height="54" fill="#000000"/>
<rect x="1232" y="275" width="5" height="28" fill="#000"/>
<rect x="1240" y="288" width="1" height="27" fill="#000000"/>
<rect x="1238" y="288" width="5" height="28" fill="#000"/>
<rect x="1245" y="329" width="1" height="14" fill="#000000"/>
<rect x="1243" y="329" width="5" height="15" fill="#000"/>
<rect x="1250" y="315" width="1" height="14" fill="#388e3c"/>
<rect x="1248" y="315" width="5" height="15" fill="#000"/>
<rect x="1249" y="316" width="3" height="13" fill="#388e3c"/>
<rect x="1256" y="329" width="1" height="14" fill="#388e3c"/>
<rect x="1254" y="329" width="5" height="1" fill="#000"/>
<rect x="1261" y="302" width="1" height="13" fill="#388e3c"/>
<rect x="1259" y="315" width="5" height="1" fill="#000"/>
<rect x="1267" y="315" width="1" height="55" fill="#000000"/>
<rect x="1265" y="315" width="5" height="56" fill="#000"/>
<rect x="1272" y="356" width="1" height="41" fill="#388e3c"/>
<rect x="1270" y="370" width="5" height="1" fill="#000"/>
<rect x="1277" y="383" width="1" height="27" fill="#000000"/>
<rect x="1275" y="383" width="5" height="28" fill="#000"/>
<rect x="1283" y="370" width="1" height="54" fill="#388e3c"/>
<rect x="1281" y="397" width="5" height="14" fill="#000"/>
<rect x="1282" y="398" width="3" height="12" fill="#388e3c"/>
<rect x="1288" y="370" width="1" height="27" fill="#388e3c"/>
<rect x="1286" y="370" width="5" height="28" fill="#000"/>
<rect x="1287" y="371" width="3" height="26" fill="#388e3c"/>
<rect x="1294" y="329" width="1" height="41" fill="#388e3c"/>
<rect x="1292" y="370" width="5" height="1" fill="#000"/>
<rect x="1299" y="315" width="1" height="55" fill="#388e3c"/>
<rect x="1297" y="343" width="5" height="28" fill="#000"/>
<rect x="1298" y="344" width="3" height="26" fill="#388e3c"/>
<rect x="1304" y="329" width="1" height="27" fill="#388e3c"/>
<rect x="1302" y="329" width="5" height="15" fill="#000"/>
<rect x="1303" y="330" width="3" height="13" fill="#a5d6a7"/>
<rect x="1310" y="315" width="1" height="28" fill="#000000"/>
<rect x="1308" y="329" width="5" height="15" fill="#000"/>
<rect x="1313" y="343" width="5" height="1" fill="#000"/>
<rect x="1320" y="315" width="1" height="82" fill="#000000"/>
<rect x="1318" y="329" width="5" height="69" fill="#000"/>
<rect x="1326" y="383" width="1" height="41" fill="#000000"/>
<rect x="1324" y="383" width="5" height="42" fill="#000"/>
<rect x="1331" y="397" width="1" height="81" fill="#000000"/>
<rect x="1329" y="410" width="5" height="15" fill="#000"/>
<rect x="1337" y="370" width="1" height="95" fill="#000000"/>
<rect x="1335" y="410" width="5" height="29" fill="#000"/>
<rect x="1342" y="383" width="1" height="82" fill="#388e3c"/>
<rect x="1340" y="438" width="5" height="1" fill="#000"/>
<rect x="1347" y="438" width="1" height="95" fill="#000000"/>
<rect x="1345" y="438" width="5" height="55" fill="#000"/>
<rect x="1353" y="438" width="1" height="54" fill="#388e3c"/>
<rect x="1351" y="465" width="5" height="14" fill="#000"/>
<rect x="1352" y="466" width="3" height="12" fill="#388e3c"/>
<rect x="1358" y="451" width="1" height="54" fill="#000000"/>
<rect x="1356" y="478" width="5" height="15" fill="#000"/>
<rect x="1364" y="438" width="1" height="81" fill="#388e3c"/>
<rect x="1362" y="465" width="5" height="14" fill="#000"/>
<rect x="1363" y="466" width="3" height="12" fill="#388e3c"/>
<rect x="1369" y="424" width="1" height="95" fill="#388e3c"/>
<rect x="1367" y="424" width="5" height="55" fill="#000"/>
<rect x="1368" y="425" width="3" height="53" fill="#388e3c"/>
<rect x="1374" y="424" width="1" height="41" fill="#000000"/>
<rect x="1372" y="424" width="5" height="15" fill="#000"/>
<rect x="1380" y="343" width="1" height="81" fill="#388e3c"/>
<rect x="1378" y="370" width="5" height="55" fill="#000"/>
<rect x="1379" y="371" width="3" height="53" fill="#388e3c"/>
<rect x="1385" y="302" width="1" height="81" fill="#388e3c"/>
<rect x="1383" y="315" width="5" height="69" fill="#000"/>
<rect x="1384" y="316" width="3" height="67" fill="#388e3c"/>
<rect x="1390" y="234" width="1" height="95" fill="#388e3c"/>
<rect x="1388" y="248" width="5" height="68" fill="#000"/>
<rect x="1389" y="249" width="3" height="66" fill="#388e3c"/>
<rect x="1396" y="125" width="1" height="421" fill="#000000"/>
<rect x="1394" y="248" width="5" height="218" fill="#000"/>
<rect x="1401" y="356" width="1" height="136" fill="#388e3c"/>
<rect x="1399" y="451" width="5" height="1" fill="#000"/>
<rect x="1407" y="410" width="1" height="150" fill="#000000"/>
<rect x="1405" y="451" width="5" height="42" fill="#000"/>
<rect x="1412" y="397" width="1" height="149" fill="#000000"/>
<rect x="1410" y="478" width="5" height="15" fill="#000"/>
<rect x="1417" y="424" width="1" height="95" fill="#388e3c"/>
<rect x="1415" y="478" width="5" height="1" fill="#000"/>
<rect x="1423" y="465" width="1" height="95" fill="#388e3c"/>
<rect x="1421" y="478" width="5" height="15" fill="#000"/>
<rect x="1422" y="479" width="3" height="13" fill="#388e3c"/>
<rect x="1428" y="275" width="1" height="203" fill="#388e3c"/>
<rect x="1426" y="410" width="5" height="69" fill="#000"/>
<rect x="1427" y="411" width="3" height="67" fill="#388e3c"/>
<rect x="1434" y="370" width="1" height="135" fill="#000000"/>
<rect x="1432" y="410" width="5" height="29" fill="#000"/>
<rect x="1439" y="438" width="1" height="67" fill="#000000"/>
<rect x="1437" y="451" width="5" height="55" fill="#000"/>
<rect x="1444" y="505" width="1" height="150" fill="#000000"/>
<rect x="1442" y="519" width="5" height="110" fill="#000"/>
<rect x="1450" y="587" width="1" height="95" fill="#388e3c"/>
<rect x="1448" y="628" width="5" height="1" fill="#000"/>
<rect x="1455" y="628" width="1" height="54" fill="#388e3c"/>
<rect x="1453" y="628" width="5" height="1" fill="#000"/>
<rect x="1461" y="478" width="1" height="136" fill="#388e3c"/>
<rect x="1459" y="478" width="5" height="137" fill="#000"/>
<rect x="1460" y="479" width="3" height="135" fill="#388e3c"/>
<rect x="1466" y="410" width="1" height="123" fill="#388e3c"/>
<rect x="1464" y="424" width="5" height="69" fill="#000"/>
<rect x="1465" y="425" width="3" height="67" fill="#388e3c"/>
<rect x="1471" y="343" width="1" height="81" fill="#388e3c"/>
<rect x="1469" y="343" width="5" height="82" fill="#000"/>
<rect x="1470" y="344" width="3" height="80" fill="#388e3c"/>
<rect x="1477" y="302" width="1" height="95" fill="#000000"/>
<rect x="1475" y="329" width="5" height="55" fill="#000"/>
<rect x="1482" y="275" width="1" height="108" fill="#388e3c"/>
<rect x="1480" y="302" width="5" height="69" fill="#000"/>
<rect x="1481" y="303" width="3" height="67" fill="#388e3c"/>
<rect x="755" y="546" width="982" height="1" fill="#000"/>
<rect x="361" y="564" width="27" height="1" fill="#cc1a1a"/>
<rect x="405" y="564" width="27" height="1" fill="#cc1a1a"/>
<rect x="1202" y="288" width="453" height="1" fill="#7d7f85"/>
<rect x="1733" y="288" width="4" height="1" fill="#7d7f85"/>
<rect x="923" y="249" width="814" height="134" fill="rgb(255,235,59)" fill-opacity="0.15" shape-rendering="auto"/>
<rect x="916" y="383" width="729" height="1" fill="#f7525f" fill-opacity="0.5"/>
<rect x="1733" y="383" width="4" height="1" fill="#f7525f" fill-opacity="0.5"/>
<line x1="922" y1="315.5" x2="1737" y2="315.5" stroke="#fff" stroke-width="1" stroke-dasharray="5 6"/>
<rect x="13" y="629" width="1724" height="12" fill="rgb(240,140,70)" fill-opacity="0.2"/>
</g>
<g shape-rendering="crispEdges">
<rect x="1737" y="35" width="1" height="826" fill="#8a8d96"/>
<rect x="14" y="827" width="1787" height="1" fill="#8a8d96"/>
</g>
<text transform="translate(12.23,24.90) scale(0.9710,1)" font-size="15.40" fill="#dfe2e8" stroke="#dfe2e8" stroke-width="0.25">po23be</text>
<text transform="translate(65.82,24.90) scale(0.9814,1)" font-size="15.40" fill="#dfe2e8" stroke="#dfe2e8" stroke-width="0.25">published</text>
<text transform="translate(134.48,24.90) scale(1.0079,1)" font-size="15.40" fill="#dfe2e8" stroke="#dfe2e8" stroke-width="0.25">on</text>
<text transform="translate(156.40,24.90) scale(0.9692,1)" font-size="15.40" fill="#dfe2e8" stroke="#dfe2e8" stroke-width="0.25">TradingView.com,</text>
<text transform="translate(278.81,24.90) scale(0.8850,1)" font-size="15.40" fill="#dfe2e8" stroke="#dfe2e8" stroke-width="0.25">Nov</text>
<text transform="translate(308.24,24.90) scale(0.9922,1)" font-size="15.40" fill="#dfe2e8" stroke="#dfe2e8" stroke-width="0.25">24,</text>
<text transform="translate(333.80,24.90) scale(0.9124,1)" font-size="15.40" fill="#dfe2e8" stroke="#dfe2e8" stroke-width="0.25">2023</text>
<text transform="translate(369.91,24.90) scale(0.9633,1)" font-size="15.40" fill="#dfe2e8" stroke="#dfe2e8" stroke-width="0.25">04:23</text>
<text transform="translate(411.03,24.90) scale(0.9247,1)" font-size="15.40" fill="#dfe2e8" stroke="#dfe2e8" stroke-width="0.25">UTC-5</text>
<text transform="translate(22.41,58.80) scale(0.9240,1)" font-size="14.80" fill="#131722" >FDAXZ2023, 5, EUREX</text>
<text transform="translate(176.67,58.80) scale(0.9450,1)" font-size="14.80" fill="#131722" >O16035</text>
<text transform="translate(234.57,58.80) scale(0.9544,1)" font-size="14.80" fill="#131722" >H16042</text>
<text transform="translate(293.17,58.80) scale(0.9539,1)" font-size="14.80" fill="#131722" >L16034</text>
<text transform="translate(349.11,58.80) scale(0.9339,1)" font-size="14.80" fill="#131722" >C16040</text>
<text transform="translate(406.71,58.80) scale(0.9331,1)" font-size="14.80" fill="#131722" >+6</text>
<text transform="translate(427.06,58.80) scale(0.9458,1)" font-size="14.80" fill="#131722" >(+0.04%)</text>
<rect x="1742" y="39.3" width="53.7" height="31" rx="3.8" fill="#ffffff"/>
<text transform="translate(1752.76,59.90) scale(0.8258,1)" font-size="15.80" fill="#131722" >EUR</text>
<text transform="translate(1747.07,90.13) scale(0.9096,1)" font-size="15.80" fill="#131722" >16056</text>
<text transform="translate(1747.07,144.42) scale(0.9096,1)" font-size="15.80" fill="#131722" >16052</text>
<text transform="translate(1747.07,198.72) scale(0.9096,1)" font-size="15.80" fill="#131722" >16048</text>
<text transform="translate(1747.07,253.01) scale(0.9096,1)" font-size="15.80" fill="#131722" >16044</text>
<text transform="translate(1747.07,307.31) scale(0.9096,1)" font-size="15.80" fill="#131722" >16040</text>
<text transform="translate(1747.07,361.60) scale(0.9096,1)" font-size="15.80" fill="#131722" >16036</text>
<text transform="translate(1747.07,415.89) scale(0.9096,1)" font-size="15.80" fill="#131722" >16032</text>
<text transform="translate(1747.07,470.19) scale(0.9096,1)" font-size="15.80" fill="#131722" >16028</text>
<text transform="translate(1747.07,524.48) scale(0.9096,1)" font-size="15.80" fill="#131722" >16024</text>
<text transform="translate(1747.07,578.78) scale(0.9096,1)" font-size="15.80" fill="#131722" >16020</text>
<text transform="translate(1747.07,633.07) scale(0.9096,1)" font-size="15.80" fill="#131722" >16016</text>
<text transform="translate(1747.07,687.36) scale(0.9096,1)" font-size="15.80" fill="#131722" >16012</text>
<text transform="translate(1747.07,741.66) scale(0.9096,1)" font-size="15.80" fill="#131722" >16008</text>
<text transform="translate(1747.07,795.95) scale(0.9096,1)" font-size="15.80" fill="#131722" >16004</text>
<path d="M1737 224 H1791 a2 2 0 0 1 2 2 V243 a2 2 0 0 1 -2 2 H1737 Z" fill="#000"/>
<text transform="translate(1747.08,239.40) scale(0.9886,1)" font-size="14.60" fill="#fff" font-weight="bold" >16045</text>
<path d="M1737 271 H1791 a2 2 0 0 1 2 2 V290 a2 2 0 0 1 -2 2 H1737 Z" fill="#787b86"/>
<text transform="translate(1747.08,286.70) scale(0.9886,1)" font-size="14.60" fill="#fff" font-weight="bold" >16041</text>
<path d="M1737 292 H1791 a2 2 0 0 1 2 2 V329 a2 2 0 0 1 -2 2 H1737 Z" fill="#388e3c"/>
<text transform="translate(1747.08,307.40) scale(0.9886,1)" font-size="14.60" fill="#fff" font-weight="bold" >16040</text>
<text transform="translate(1746.40,325.90) scale(1.0302,1)" font-size="14.60" fill="#d7e8d8" >01:23</text>
<path d="M1737 373 H1791 a2 2 0 0 1 2 2 V392 a2 2 0 0 1 -2 2 H1737 Z" fill="#f7525f"/>
<text transform="translate(1747.08,388.80) scale(0.9886,1)" font-size="14.60" fill="#fff" font-weight="bold" >16034</text>
<path d="M1737 512 H1791 a2 2 0 0 1 2 2 V531 a2 2 0 0 1 -2 2 H1737 Z" fill="#801922"/>
<text transform="translate(1747.08,527.40) scale(0.9886,1)" font-size="14.60" fill="#fff" font-weight="bold" >16024</text>
<path d="M1737 536 H1791 a2 2 0 0 1 2 2 V555 a2 2 0 0 1 -2 2 H1737 Z" fill="#000"/>
<text transform="translate(1747.08,551.70) scale(0.9886,1)" font-size="14.60" fill="#fff" font-weight="bold" >16022</text>
<text transform="translate(1706.03,227.90) scale(0.9194,1)" font-size="12.90" fill="#131722" >pDH</text>
<text transform="translate(1659.98,292.40) scale(0.9871,1)" font-size="12.90" fill="#3d7ff0" >NY midnight</text>
<text transform="translate(1650.44,387.80) scale(0.9290,1)" font-size="12.90" fill="#4e8ab8" >RTH gap close</text>
<text transform="translate(1645.42,525.70) scale(0.9329,1)" font-size="12.90" fill="#ffffff" font-weight="bold" >C.E. daily wick</text>
<text transform="translate(1667.86,560.70) scale(0.9386,1)" font-size="12.90" fill="#131722" >SSL/pD pm</text>
<text transform="translate(393.56,568.80) scale(1.0123,1)" font-size="14.20" fill="#222" >x</text>
<text transform="translate(63.01,850.00) scale(0.9354,1)" font-size="15.80" fill="#131722" >03:00</text>
<text transform="translate(257.01,850.00) scale(0.9354,1)" font-size="15.80" fill="#131722" >06:00</text>
<text transform="translate(451.01,850.00) scale(0.9354,1)" font-size="15.80" fill="#131722" >09:00</text>
<text transform="translate(645.01,850.00) scale(0.9354,1)" font-size="15.80" fill="#131722" >12:00</text>
<text transform="translate(775.01,850.00) scale(0.9354,1)" font-size="15.80" fill="#131722" >14:00</text>
<text transform="translate(909.01,850.00) scale(0.9354,1)" font-size="15.80" fill="#131722" >19:15</text>
<text transform="translate(1022.01,850.00) scale(0.9354,1)" font-size="15.80" fill="#131722" >21:00</text>
<text transform="translate(1378.01,850.00) scale(0.9354,1)" font-size="15.80" fill="#131722" >03:00</text>
<text transform="translate(1572.01,850.00) scale(0.9354,1)" font-size="15.80" fill="#131722" >06:00</text>
<text transform="translate(1193.98,850.00) scale(0.9405,1)" font-size="15.80" fill="#131722" font-weight="bold" >24</text>
<path d="M13.05 878.1 H23.1 V889.8 H18.1 V882.75 H13.05 Z" fill="#d5d8e0"/>
<circle cx="26.9" cy="880.5" r="2.4" fill="#d5d8e0"/>
<path d="M30.9 878.1 H37.5 L33.3 889.8 H26.9 Z" fill="#d5d8e0"/>
<text transform="translate(41.88,889.80) scale(1.0214,1)" font-size="15.60" fill="#d5d8e0" stroke="#d5d8e0" stroke-width="0.35">TradingView</text>
</svg></body></html>
